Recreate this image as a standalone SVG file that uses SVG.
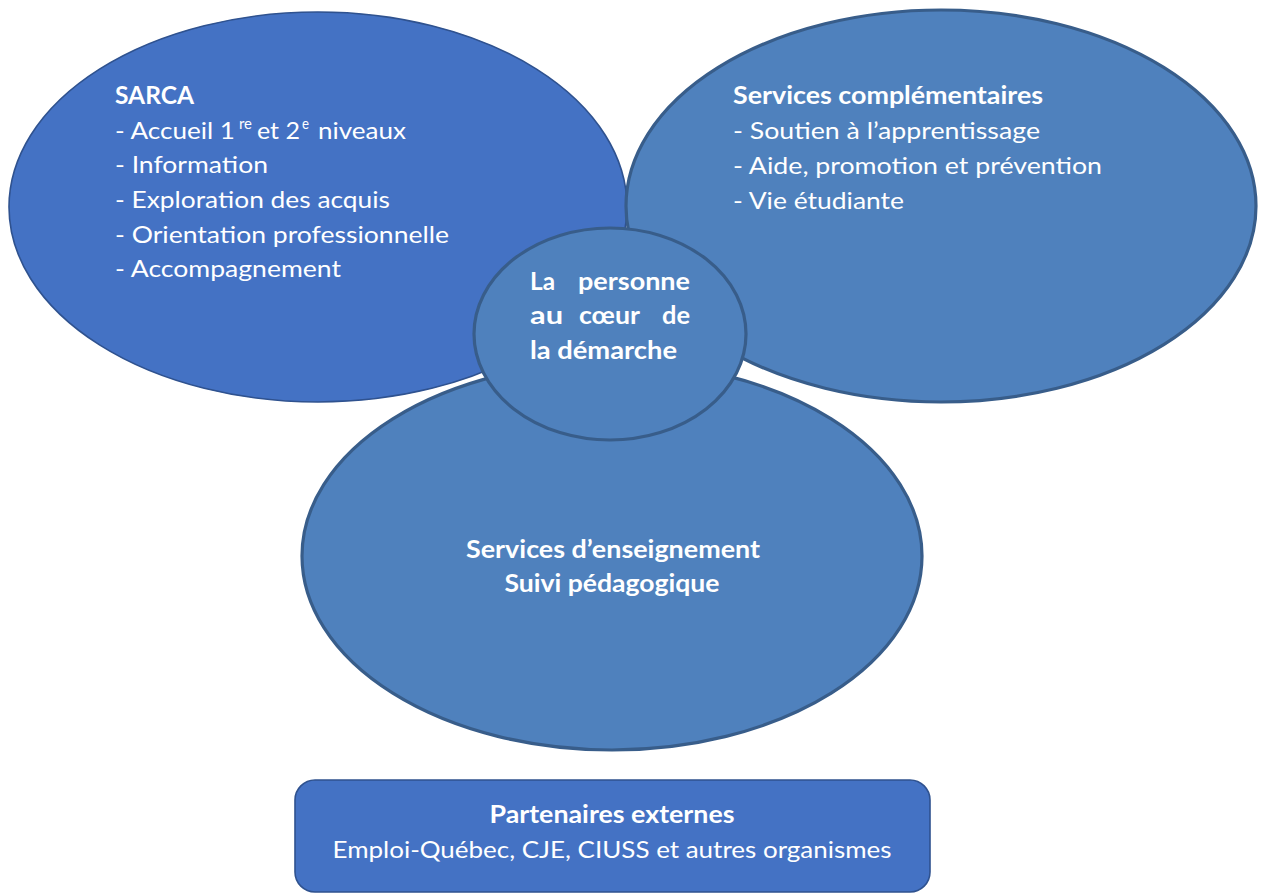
<svg xmlns="http://www.w3.org/2000/svg" width="1261" height="894" viewBox="0 0 1261 894">
<style>
.t{font-family:Lato,"Open Sans","Liberation Sans",sans-serif;font-size:24px;fill:#ffffff}
.b{font-weight:bold}
.sup{font-size:15px}
.c{text-anchor:middle}
.e{text-anchor:end}
.dark{fill:#4472C4;stroke:#2F528F;stroke-width:1.6}
.mid{fill:#4F81BD;stroke:#385D8A;stroke-width:3.2}
</style>
<rect width="1261" height="894" fill="#ffffff"/>
<g id="sarca">
<ellipse class="dark" cx="318" cy="207" rx="309" ry="195"/>
<text class="t b" x="115" y="104" textLength="79" lengthAdjust="spacingAndGlyphs">SARCA</text>
<text class="t" x="115" y="139" textLength="120" lengthAdjust="spacingAndGlyphs">- Accueil 1</text>
<text class="t sup" x="239" y="129" textLength="13" lengthAdjust="spacingAndGlyphs">re</text>
<text class="t" x="257" y="139" textLength="43" lengthAdjust="spacingAndGlyphs">et 2</text>
<text class="t sup" x="302" y="129" textLength="7" lengthAdjust="spacingAndGlyphs">e</text>
<text class="t" x="318" y="139" textLength="88" lengthAdjust="spacingAndGlyphs">niveaux</text>
<text class="t" x="115" y="173" textLength="153" lengthAdjust="spacingAndGlyphs">- Information</text>
<text class="t" x="115" y="208" textLength="275" lengthAdjust="spacingAndGlyphs">- Exploration des acquis</text>
<text class="t" x="115" y="243" textLength="334" lengthAdjust="spacingAndGlyphs">- Orientation professionnelle</text>
<text class="t" x="115" y="277" textLength="226" lengthAdjust="spacingAndGlyphs">- Accompagnement</text>
</g>
<g id="complementaires">
<ellipse class="mid" cx="941" cy="206" rx="315" ry="196"/>
<text class="t b" x="733" y="104" textLength="310" lengthAdjust="spacingAndGlyphs">Services complémentaires</text>
<text class="t" x="733" y="139" textLength="307" lengthAdjust="spacingAndGlyphs">- Soutien à l’apprentissage</text>
<text class="t" x="733" y="174" textLength="369" lengthAdjust="spacingAndGlyphs">- Aide, promotion et prévention</text>
<text class="t" x="733" y="209" textLength="171" lengthAdjust="spacingAndGlyphs">- Vie étudiante</text>
</g>
<g id="enseignement">
<ellipse class="mid" cx="612" cy="556" rx="310" ry="194"/>
<text class="t b c" x="613" y="558" textLength="294" lengthAdjust="spacingAndGlyphs">Services d’enseignement</text>
<text class="t b c" x="612" y="592" textLength="215" lengthAdjust="spacingAndGlyphs">Suivi pédagogique</text>
</g>
<g id="personne">
<ellipse class="mid" cx="610" cy="334" rx="136" ry="106"/>
<text class="t b" x="530" y="290" textLength="25" lengthAdjust="spacingAndGlyphs">La</text>
<text class="t b" x="578" y="290" textLength="112" lengthAdjust="spacingAndGlyphs">personne</text>
<text class="t b" x="530" y="324" textLength="33" lengthAdjust="spacingAndGlyphs">au</text>
<text class="t b" x="579" y="324" textLength="61" lengthAdjust="spacingAndGlyphs">cœur</text>
<text class="t b" x="662" y="324" textLength="28" lengthAdjust="spacingAndGlyphs">de</text>
<text class="t b" x="530" y="359" textLength="147" lengthAdjust="spacingAndGlyphs">la démarche</text>
</g>
<g id="partenaires">
<rect class="dark" x="295" y="780" width="635" height="112" rx="20" ry="20"/>
<text class="t b c" x="612" y="823" textLength="245" lengthAdjust="spacingAndGlyphs">Partenaires externes</text>
<text class="t c" x="612" y="858" textLength="559" lengthAdjust="spacingAndGlyphs">Emploi-Québec, CJE, CIUSS et autres organismes</text>
</g>
<g id="connectors"></g>
</svg>
